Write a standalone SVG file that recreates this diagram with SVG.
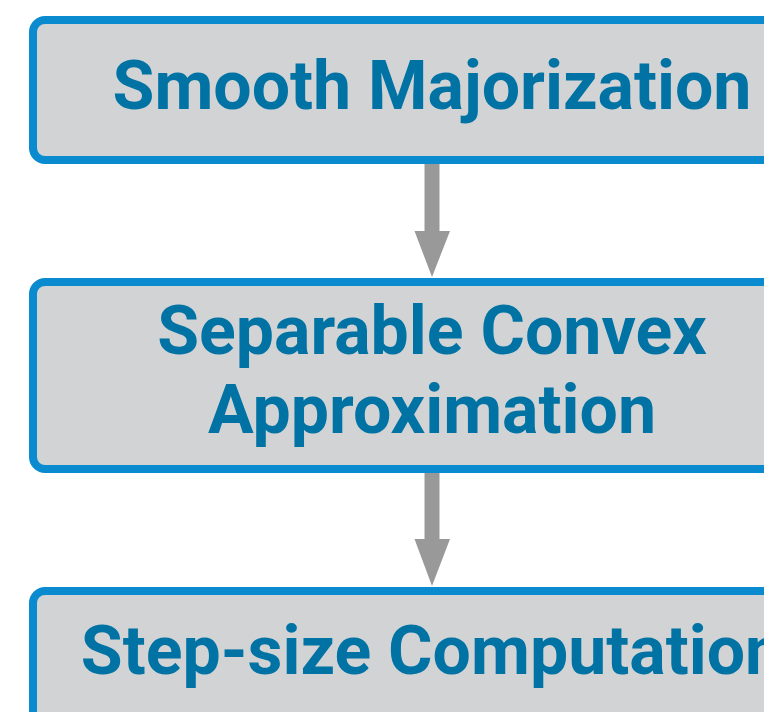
<svg xmlns="http://www.w3.org/2000/svg" width="764" height="712" viewBox="0 0 764 712">
  <defs>
    <style>
      .box { fill: #d1d3d5; stroke: #0a8bcf; stroke-width: 8; }
      .label { font-family: Roboto, "Liberation Sans", sans-serif; font-weight: bold; font-size: 68px; fill: #0073a4; text-anchor: middle; }
      .arrow { fill: #999999; }
    </style>
  </defs>
  <rect width="764" height="712" fill="#ffffff"/>

  <g id="node-majorization">
    <rect class="box" x="33" y="20" width="798" height="140" rx="12"/>
    <text class="label" x="432" y="109">Smooth Majorization</text>
  </g>

  <g id="node-approximation">
    <rect class="box" x="33" y="282" width="798" height="187" rx="12"/>
    <text class="label" x="432" y="354">Separable Convex</text>
    <text class="label" x="432" y="433">Approximation</text>
  </g>

  <g id="node-stepsize">
    <rect class="box" x="33" y="591" width="798" height="160" rx="12"/>
    <text class="label" x="432" y="674">Step-size Computation</text>
  </g>

  <g id="connectors">
    <polygon class="arrow" points="424.5,164 439.5,164 439.5,231 450,231 432,277 414.5,231 424.5,231"/>
    <polygon class="arrow" points="424.5,473 439.5,473 439.5,539 450,539 432,586 414.5,539 424.5,539"/>
  </g>
</svg>
